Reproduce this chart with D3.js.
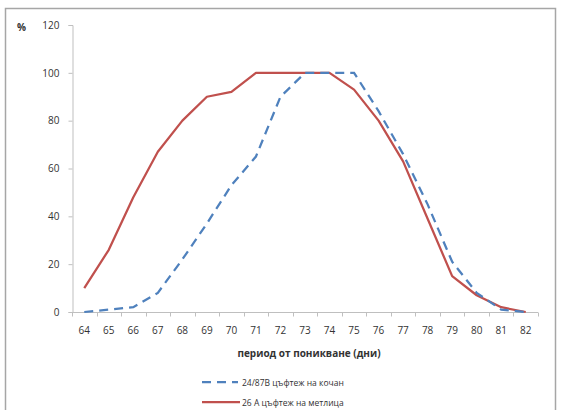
<!DOCTYPE html>
<html>
<head>
<meta charset="utf-8">
<script src="https://cdn.jsdelivr.net/npm/d3@7"></script>
<style>
  html, body { margin: 0; padding: 0; background: #fff; }
  svg { display: block; }
  text { font-family: "Open Sans", "Liberation Sans", sans-serif; fill: #333; }
</style>
</head>
<body>
<svg id="chart" width="563" height="410"></svg>
<script>
// Days after emergence (x categories)
const days = [64, 65, 66, 67, 68, 69, 70, 71, 72, 73, 74, 75, 76, 77, 78, 79, 80, 81, 82];
// Percentage values per series
const silking = [0, 1, 2, 8, 22, 37, 53, 65, 90, 100, 100, 100, 84, 66, 45, 21, 8, 1, 0];
const tasseling = [10, 26, 48, 67, 80, 90, 92, 100, 100, 100, 100, 93, 80, 63, 39, 15, 7, 2, 0];
const yTicks = [0, 20, 40, 60, 80, 100, 120];
const seriesNames = ["24/87В цъфтеж на кочан", "26 А цъфтеж на метлица"];
const xTitle = "период от поникване (дни)";
const yUnit = "%";

const svg = d3.select("#chart");

// outer chart frame
svg.append("rect")
  .attr("x", 5.5).attr("y", 8.5).attr("width", 550).attr("height", 410)
  .attr("fill", "#fff").attr("stroke", "#a6a6a6").attr("stroke-width", 1.5);

const plot = { left: 72, right: 538, top: 25, bottom: 312 };

const x = d3.scaleBand().domain(days).range([plot.left, plot.right]);
const y = d3.scaleLinear().domain([0, 120]).range([plot.bottom, plot.top]);

// Y axis
const yAxis = svg.append("g")
  .attr("transform", `translate(${plot.left + 0.5},0)`)
  .call(d3.axisLeft(y).tickValues(yTicks).tickSize(4).tickPadding(9));
yAxis.select(".domain").attr("stroke", "#bfbfbf");
yAxis.selectAll(".tick line").attr("stroke", "#bfbfbf");
yAxis.selectAll(".tick text").attr("font-size", 10).style("fill", "#333");

// X axis with ticks between categories
const xAxisG = svg.append("g").attr("transform", `translate(0,${plot.bottom + 0.5})`);
xAxisG.append("line")
  .attr("x1", plot.left).attr("x2", plot.right)
  .attr("stroke", "#bfbfbf");
xAxisG.selectAll("line.sep")
  .data(days.concat([null]))
  .join("line")
  .attr("class", "sep")
  .attr("x1", (d, i) => Math.round(plot.left + i * x.step()) + 0.5)
  .attr("x2", (d, i) => Math.round(plot.left + i * x.step()) + 0.5)
  .attr("y1", 0).attr("y2", 4)
  .attr("stroke", "#bfbfbf");
xAxisG.selectAll("text")
  .data(days)
  .join("text")
  .attr("x", d => x(d) + x.bandwidth() / 2)
  .attr("y", 21)
  .attr("text-anchor", "middle")
  .attr("font-size", 10)
  .text(d => d);

// axis unit and title
svg.append("text")
  .attr("x", 17).attr("y", 31)
  .attr("font-size", 10).attr("font-weight", "bold")
  .text(yUnit);
svg.append("text")
  .attr("x", 309).attr("y", 357)
  .attr("text-anchor", "middle")
  .attr("font-size", 10).attr("font-weight", "bold")
  .text(xTitle);

const line = d3.line()
  .x((d, i) => x(days[i]) + x.bandwidth() / 2)
  .y(d => y(d));

svg.append("path")
  .datum(tasseling)
  .attr("fill", "none")
  .attr("stroke", "#c0504d")
  .attr("stroke-width", 2.25)
  .attr("stroke-linejoin", "round")
  .attr("d", line);

svg.append("path")
  .datum(silking)
  .attr("fill", "none")
  .attr("stroke", "#4f81bd")
  .attr("stroke-width", 2.25)
  .attr("stroke-dasharray", "9,6")
  .attr("d", line);

// legend
const legend = svg.append("g");
legend.append("line")
  .attr("x1", 202).attr("x2", 238).attr("y1", 382).attr("y2", 382)
  .attr("stroke", "#4f81bd").attr("stroke-width", 2.25)
  .attr("stroke-dasharray", "9,6");
legend.append("text")
  .attr("x", 242).attr("y", 385.5)
  .attr("font-size", 8.5)
  .text(seriesNames[0]);
legend.append("line")
  .attr("x1", 202).attr("x2", 240).attr("y1", 402).attr("y2", 402)
  .attr("stroke", "#c0504d").attr("stroke-width", 2.25);
legend.append("text")
  .attr("x", 242).attr("y", 405.5)
  .attr("font-size", 8.5)
  .text(seriesNames[1]);
</script>
</body>
</html>
